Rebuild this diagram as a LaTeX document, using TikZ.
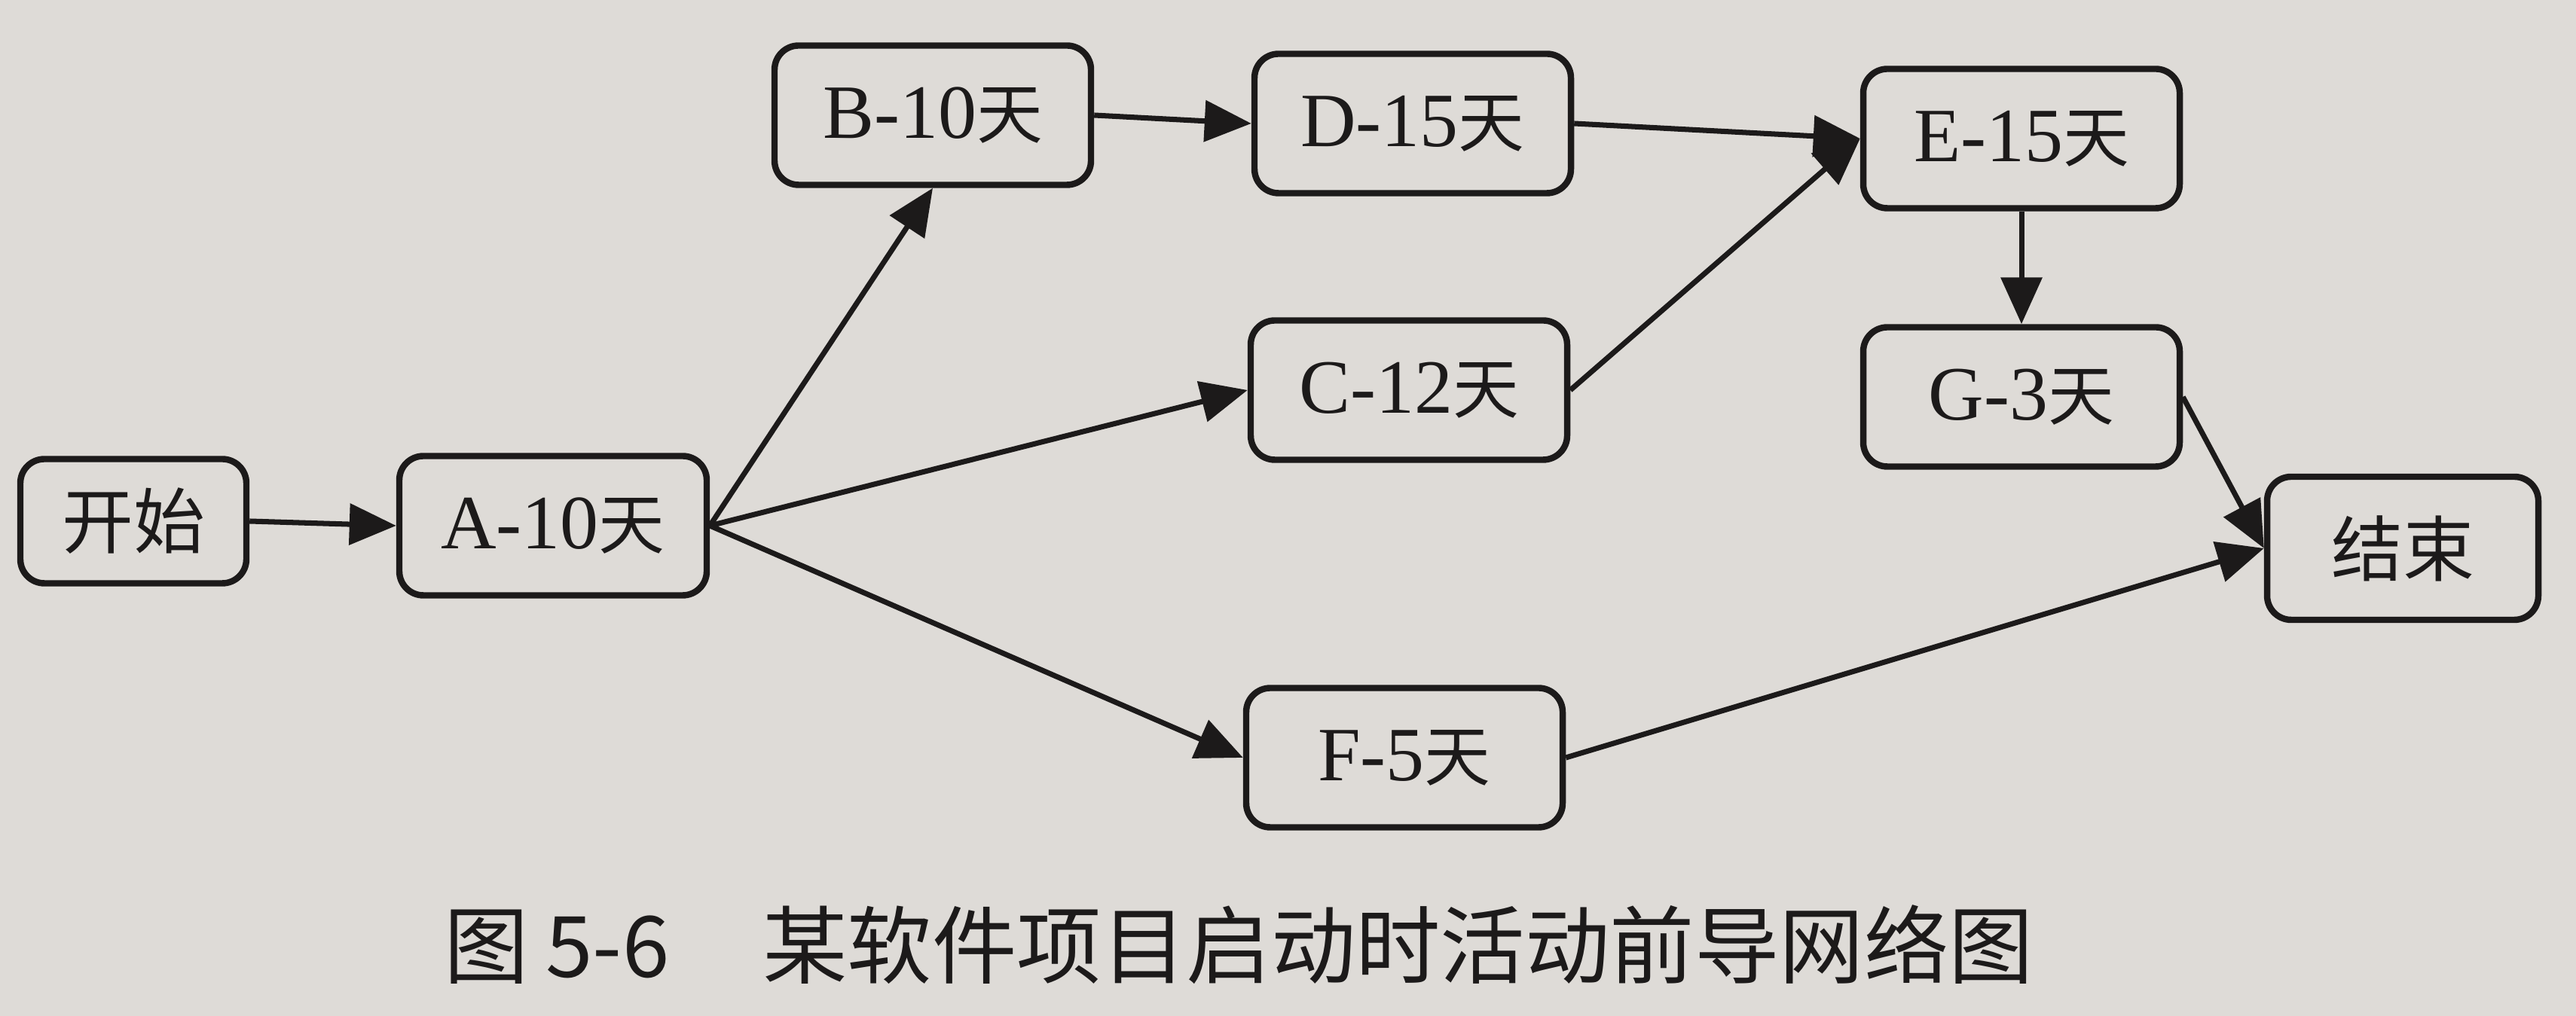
\documentclass[tikz,border=0pt]{standalone}
\usepackage{fontspec}
\setmainfont{Liberation Serif}
\newfontfamily\cjk{Noto Sans CJK SC}
\usetikzlibrary{arrows.meta}
\definecolor{paper}{RGB}{222,219,215}
\definecolor{ink}{RGB}{28,26,26}
\newcommand{\tian}{{\cjk\fontsize{25}{30}\selectfont 天}}
\tikzset{
  task/.style={draw=ink, line width=2.4pt, rounded corners=0.32cm,
    minimum width=4.2cm, minimum height=1.85cm, inner sep=0pt,
    font=\fontsize{29}{34}\selectfont, text=ink},
  endpoint/.style={task, font=\cjk\fontsize{27}{32}\selectfont},
  link/.style={draw=ink, line width=2pt,
    -{Triangle[length=0.62cm, width=0.54cm]}}
}
\begin{document}
\begin{tikzpicture}
  \fill[paper] (0,0) rectangle (34.19,13.49);
  \useasboundingbox (0,0) rectangle (34.19,13.49);

  % activity nodes
  \node[endpoint, minimum width=3.0cm, minimum height=1.65cm] (start) at (1.77,6.57) {开始};
  \node[task, minimum width=4.08cm] (a) at (7.34,6.51) {A-10\tian};
  \node[task] (b) at (12.38,11.96) {B-10\tian};
  \node[task] (d) at (18.75,11.85) {D-15\tian};
  \node[task] (e) at (26.83,11.65) {E-15\tian};
  \node[task] (c) at (18.70,8.31) {C-12\tian};
  \node[task] (g) at (26.83,8.22) {G-3\tian};
  \node[task] (f) at (18.64,3.43) {F-5\tian};
  \node[endpoint, minimum width=3.6cm, minimum height=1.9cm] (end) at (31.89,6.21) {结束};

  % precedence links
  \draw[link] (start.east) -- (a.west);
  \draw[link] (a.east) -- (b.south);
  \draw[link] (a.east) -- (c.west);
  \draw[link] (a.east) -- (f.west);
  \draw[link] (b.east) -- (d.west);
  \draw[link] (d.east) -- (e.west);
  \draw[link] (c.east) -- (e.west);
  \draw[link] (e.south) -- (g.north);
  \draw[link] (g.east) -- (end.west);
  \draw[link] (f.east) -- (end.west);

  % caption
  \node[anchor=west, inner sep=0pt, text=ink, font=\cjk\fontsize{32}{37}\selectfont]
    (caption) at (5.89,0.95) {图\hspace{0.2em}5-6\hspace{1.1em}某软件项目启动时活动前导网络图};
\end{tikzpicture}
\end{document}
